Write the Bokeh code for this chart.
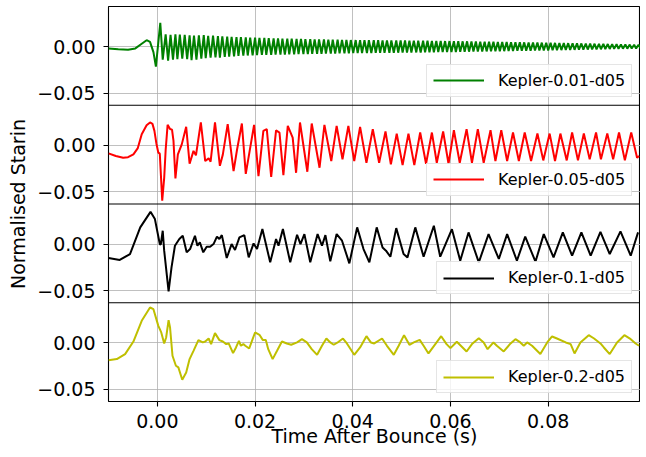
import numpy as np
from bokeh.plotting import figure
from bokeh.models import (Range1d, FixedTicker, CustomJSTickFormatter, NumeralTickFormatter,
                          Legend, LegendItem, Span)
from bokeh.embed import file_html
from bokeh.resources import INLINE

# ---------------- data ----------------
labels = ["Kepler-0.01-d05", "Kepler-0.05-d05", "Kepler-0.1-d05", "Kepler-0.2-d05"]
colors = ["#008000", "#ff0000", "#000000", "#bfbf00"]
x_ticks = [0.00, 0.02, 0.04, 0.06, 0.08]
y_ticks = [0.00, -0.05]

green_t = [
    -0.0100, -0.0080, -0.0060, -0.0045, -0.0032, -0.0022, -0.0015, -0.0008, -0.0003, 0.0006, 0.0011,
    0.0017, 0.0022, 0.0027, 0.0032, 0.0037, 0.0041, 0.0046, 0.0051, 0.0056, 0.0061, 0.0066, 0.0070,
    0.0075, 0.0080, 0.0085, 0.0090, 0.0095, 0.0099, 0.0104, 0.0109, 0.0114, 0.0119, 0.0124, 0.0128,
    0.0133, 0.0138, 0.0143, 0.0147, 0.0152, 0.0157, 0.0162, 0.0166, 0.0171, 0.0176, 0.0181, 0.0185,
    0.0190, 0.0195, 0.0200, 0.0204, 0.0209, 0.0214, 0.0219, 0.0223, 0.0228, 0.0233, 0.0238, 0.0242,
    0.0247, 0.0252, 0.0256, 0.0261, 0.0266, 0.0270, 0.0275, 0.0280, 0.0285, 0.0289, 0.0294, 0.0299,
    0.0303, 0.0308, 0.0313, 0.0317, 0.0322, 0.0327, 0.0331, 0.0336, 0.0341, 0.0345, 0.0350, 0.0355,
    0.0359, 0.0364, 0.0369, 0.0373, 0.0378, 0.0383, 0.0387, 0.0392, 0.0396, 0.0401, 0.0406, 0.0410,
    0.0415, 0.0419, 0.0424, 0.0429, 0.0433, 0.0438, 0.0443, 0.0447, 0.0452, 0.0456, 0.0461, 0.0465,
    0.0470, 0.0475, 0.0479, 0.0484, 0.0489, 0.0493, 0.0498, 0.0502, 0.0507, 0.0511, 0.0516, 0.0520,
    0.0525, 0.0530, 0.0534, 0.0539, 0.0544, 0.0548, 0.0553, 0.0557, 0.0562, 0.0566, 0.0571, 0.0575,
    0.0580, 0.0584, 0.0589, 0.0593, 0.0598, 0.0602, 0.0607, 0.0611, 0.0616, 0.0620, 0.0625, 0.0629,
    0.0634, 0.0638, 0.0643, 0.0647, 0.0652, 0.0656, 0.0661, 0.0665, 0.0670, 0.0674, 0.0679, 0.0683,
    0.0688, 0.0692, 0.0697, 0.0701, 0.0706, 0.0710, 0.0715, 0.0719, 0.0724, 0.0728, 0.0733, 0.0737,
    0.0742, 0.0746, 0.0751, 0.0755, 0.0760, 0.0764, 0.0769, 0.0773, 0.0778, 0.0782, 0.0787, 0.0791,
    0.0796, 0.0800, 0.0805, 0.0809, 0.0814, 0.0818, 0.0823, 0.0827, 0.0832, 0.0836, 0.0841, 0.0845,
    0.0850, 0.0854, 0.0859, 0.0863, 0.0868, 0.0872, 0.0877, 0.0881, 0.0886, 0.0890, 0.0895, 0.0899,
    0.0904, 0.0908, 0.0913, 0.0917, 0.0922, 0.0926, 0.0931, 0.0935, 0.0940, 0.0944, 0.0949, 0.0953,
    0.0958, 0.0962, 0.0967, 0.0971, 0.0976, 0.0980, 0.0985, 0.0989]
green_y = [
    -0.0020, -0.0030, -0.0035, -0.0020, 0.0030, 0.0068, 0.0050, -0.0060, -0.0215, 0.0255, -0.0140,
    0.0130, -0.0150, 0.0125, -0.0140, 0.0130, -0.0135, 0.0128, -0.0130, 0.0125, -0.0135, 0.0120, -0.0145,
    0.0118, -0.0140, 0.0120, -0.0130, 0.0122, -0.0125, 0.0115, -0.0120, 0.0118, -0.0115, 0.0112, -0.0118,
    0.0110, -0.0112, 0.0108, -0.0108, 0.0105, -0.0105, 0.0102, -0.0100, 0.0100, -0.0098, 0.0098, -0.0096,
    0.0096, -0.0094, 0.0095, -0.0092, 0.0094, -0.0090, 0.0092, -0.0090, 0.0090, -0.0088, 0.0088, -0.0087,
    0.0087, -0.0086, 0.0086, -0.0085, 0.0085, -0.0084, 0.0084, -0.0083, 0.0083, -0.0082, 0.0082, -0.0081,
    0.0080, -0.0080, 0.0079, -0.0079, 0.0078, -0.0078, 0.0077, -0.0077, 0.0076, -0.0076, 0.0075, -0.0075,
    0.0074, -0.0074, 0.0073, -0.0073, 0.0072, -0.0072, 0.0071, -0.0072, 0.0070, -0.0071, 0.0070, -0.0070,
    0.0069, -0.0070, 0.0069, -0.0069, 0.0068, -0.0069, 0.0068, -0.0068, 0.0068, -0.0068, 0.0067, -0.0067,
    0.0067, -0.0067, 0.0066, -0.0066, 0.0066, -0.0066, 0.0065, -0.0065, 0.0065, -0.0065, 0.0064, -0.0064,
    0.0064, -0.0063, 0.0063, -0.0063, 0.0062, -0.0062, 0.0062, -0.0061, 0.0061, -0.0061, 0.0060, -0.0060,
    0.0060, -0.0060, 0.0059, -0.0059, 0.0059, -0.0058, 0.0058, -0.0058, 0.0057, -0.0057, 0.0056, -0.0056,
    0.0056, -0.0055, 0.0055, -0.0054, 0.0054, -0.0054, 0.0053, -0.0053, 0.0052, -0.0052, 0.0052, -0.0051,
    0.0051, -0.0050, 0.0050, -0.0050, 0.0049, -0.0049, 0.0048, -0.0048, 0.0047, -0.0047, 0.0047, -0.0046,
    0.0046, -0.0045, 0.0045, -0.0045, 0.0044, -0.0044, 0.0043, -0.0043, 0.0043, -0.0042, 0.0042, -0.0042,
    0.0041, -0.0041, 0.0040, -0.0040, 0.0039, -0.0039, 0.0038, -0.0038, 0.0037, -0.0037, 0.0036, -0.0036,
    0.0035, -0.0035, 0.0034, -0.0034, 0.0033, -0.0033, 0.0032, -0.0032, 0.0031, -0.0031, 0.0030, -0.0030,
    0.0029, -0.0029, 0.0028, -0.0028, 0.0027, -0.0026, 0.0026, -0.0025, 0.0025, -0.0024, 0.0023, -0.0023,
    0.0022, -0.0022, 0.0021, -0.0021, 0.0020, -0.0020, 0.0019, -0.0018]

red_t = [
    -0.0100, -0.0085, -0.0070, -0.0060, -0.0049, -0.0040, -0.0032, -0.0022, -0.0015, -0.0010, -0.0006,
    -0.0002, 0.0002, 0.0005, 0.0010, 0.0014, 0.0017, 0.0021, 0.0026, 0.0030, 0.0033, 0.0037, 0.0042,
    0.0050, 0.0059, 0.0066, 0.0074, 0.0079, 0.0089, 0.0098, 0.0105, 0.0109, 0.0118, 0.0128, 0.0134,
    0.0144, 0.0156, 0.0163, 0.0173, 0.0181, 0.0198, 0.0207, 0.0217, 0.0224, 0.0233, 0.0243, 0.0250,
    0.0258, 0.0267, 0.0277, 0.0284, 0.0292, 0.0307, 0.0316, 0.0332, 0.0342, 0.0356, 0.0367, 0.0379,
    0.0391, 0.0403, 0.0415, 0.0428, 0.0441, 0.0454, 0.0467, 0.0478, 0.0490, 0.0502, 0.0514, 0.0526,
    0.0538, 0.0550, 0.0562, 0.0572, 0.0585, 0.0596, 0.0607, 0.0619, 0.0633, 0.0644, 0.0656, 0.0668,
    0.0682, 0.0692, 0.0704, 0.0716, 0.0728, 0.0740, 0.0752, 0.0765, 0.0778, 0.0790, 0.0803, 0.0814,
    0.0825, 0.0838, 0.0849, 0.0861, 0.0873, 0.0885, 0.0898, 0.0908, 0.0921, 0.0933, 0.0945, 0.0957,
    0.0970, 0.0982, 0.0986]
red_y = [
    -0.0086, -0.0115, -0.0133, -0.0128, -0.0097, -0.0030, 0.0119, 0.0215, 0.0245, 0.0230, 0.0155,
    0.0020, -0.0079, -0.0090, -0.0594, -0.0350, -0.0050, 0.0220, 0.0175, 0.0168, 0.0050, -0.0356, -0.0097,
    0.0010, 0.0198, -0.0198, -0.0060, -0.0108, 0.0245, -0.0169, -0.0140, -0.0175, 0.0245, -0.0220, -0.0100,
    0.0227, -0.0277, -0.0050, 0.0234, -0.0306, 0.0220, -0.0330, 0.0155, 0.0173, -0.0340, 0.0160, 0.0137,
    -0.0320, 0.0209, 0.0083, -0.0295, 0.0245, -0.0284, 0.0234, -0.0241, 0.0220, -0.0169, 0.0209, -0.0150,
    0.0209, -0.0169, 0.0198, -0.0187, 0.0173, -0.0187, 0.0148, -0.0205, 0.0126, -0.0212, 0.0126, -0.0212,
    0.0137, -0.0198, 0.0137, -0.0187, 0.0148, -0.0198, 0.0162, -0.0187, 0.0173, -0.0187, 0.0173, -0.0187,
    0.0162, -0.0169, 0.0162, -0.0169, 0.0137, -0.0169, 0.0137, -0.0169, 0.0126, -0.0162, 0.0126, -0.0169,
    0.0126, -0.0162, 0.0137, -0.0162, 0.0126, -0.0151, 0.0137, -0.0151, 0.0126, -0.0151, 0.0137, -0.0162,
    0.0137, -0.0133, -0.0115]

black_t = [
    -0.0100, -0.0077, -0.0056, -0.0035, -0.0014, -0.0005, 0.0005, 0.0007, 0.0011, 0.0014, 0.0023,
    0.0029, 0.0036, 0.0045, 0.0052, 0.0060, 0.0067, 0.0077, 0.0082, 0.0087, 0.0094, 0.0101, 0.0108,
    0.0115, 0.0122, 0.0127, 0.0132, 0.0142, 0.0152, 0.0159, 0.0168, 0.0178, 0.0187, 0.0197, 0.0204,
    0.0215, 0.0231, 0.0243, 0.0248, 0.0257, 0.0272, 0.0286, 0.0293, 0.0301, 0.0313, 0.0328, 0.0337,
    0.0344, 0.0354, 0.0367, 0.0378, 0.0393, 0.0409, 0.0422, 0.0434, 0.0449, 0.0461, 0.0468, 0.0477,
    0.0489, 0.0504, 0.0512, 0.0528, 0.0545, 0.0566, 0.0579, 0.0603, 0.0620, 0.0637, 0.0658, 0.0678,
    0.0699, 0.0716, 0.0736, 0.0753, 0.0774, 0.0791, 0.0811, 0.0830, 0.0849, 0.0868, 0.0887, 0.0907,
    0.0926, 0.0948, 0.0969, 0.0984]
black_y = [
    -0.0150, -0.0171, -0.0107, 0.0179, 0.0346, 0.0268, 0.0000, -0.0007, 0.0143, -0.0071, -0.0507,
    -0.0250, -0.0018, 0.0054, 0.0089, -0.0089, -0.0054, 0.0089, -0.0018, 0.0018, -0.0089, -0.0029, -0.0029,
    0.0000, 0.0079, 0.0054, 0.0096, -0.0150, 0.0000, -0.0064, 0.0071, 0.0096, -0.0143, 0.0007, -0.0054,
    0.0161, -0.0196, 0.0054, -0.0018, 0.0161, -0.0196, 0.0100, 0.0000, 0.0107, -0.0196, 0.0107, -0.0018,
    0.0096, -0.0186, 0.0107, 0.0036, -0.0207, 0.0179, -0.0054, -0.0196, 0.0179, -0.0036, -0.0071, -0.0136,
    0.0171, -0.0107, -0.0143, 0.0179, -0.0136, 0.0196, -0.0136, 0.0160, -0.0179, 0.0125, -0.0196, 0.0107,
    -0.0160, 0.0107, -0.0179, 0.0079, -0.0189, 0.0107, -0.0143, 0.0125, -0.0125, 0.0125, -0.0125, 0.0132,
    -0.0107, 0.0136, -0.0125, 0.0125]

yellow_t = [
    -0.0100, -0.0083, -0.0066, -0.0049, -0.0032, -0.0015, -0.0008, 0.0002, 0.0008, 0.0014, 0.0018,
    0.0023, 0.0026, 0.0031, 0.0038, 0.0043, 0.0051, 0.0059, 0.0066, 0.0074, 0.0084, 0.0093, 0.0098,
    0.0105, 0.0110, 0.0118, 0.0127, 0.0134, 0.0141, 0.0146, 0.0155, 0.0161, 0.0167, 0.0171, 0.0176,
    0.0180, 0.0188, 0.0195, 0.0200, 0.0209, 0.0216, 0.0222, 0.0227, 0.0236, 0.0245, 0.0255, 0.0265,
    0.0274, 0.0286, 0.0296, 0.0306, 0.0316, 0.0327, 0.0337, 0.0346, 0.0354, 0.0361, 0.0371, 0.0380,
    0.0388, 0.0403, 0.0415, 0.0428, 0.0437, 0.0444, 0.0460, 0.0470, 0.0484, 0.0494, 0.0505, 0.0516,
    0.0525, 0.0537, 0.0545, 0.0555, 0.0569, 0.0581, 0.0592, 0.0600, 0.0613, 0.0633, 0.0644, 0.0658,
    0.0668, 0.0676, 0.0688, 0.0695, 0.0709, 0.0723, 0.0733, 0.0743, 0.0750, 0.0757, 0.0767, 0.0784,
    0.0798, 0.0808, 0.0818, 0.0836, 0.0846, 0.0854, 0.0866, 0.0883, 0.0894, 0.0907, 0.0914, 0.0926,
    0.0941, 0.0956, 0.0969, 0.0979, 0.0986]
yellow_y = [
    -0.0186, -0.0175, -0.0121, 0.0014, 0.0236, 0.0379, 0.0361, 0.0182, 0.0111, -0.0007, 0.0057,
    0.0243, 0.0164, -0.0139, -0.0246, -0.0264, -0.0396, -0.0318, -0.0175, -0.0086, 0.0029, 0.0004, 0.0014,
    0.0046, -0.0014, 0.0104, 0.0029, 0.0014, -0.0014, -0.0007, -0.0111, -0.0050, 0.0021, -0.0032, -0.0014,
    -0.0032, -0.0061, 0.0039, 0.0111, 0.0086, 0.0029, 0.0029, -0.0068, -0.0175, -0.0086, 0.0014, -0.0007,
    -0.0021, 0.0004, 0.0039, 0.0004, -0.0068, -0.0129, -0.0032, 0.0046, 0.0004, -0.0021, 0.0011, 0.0046,
    -0.0007, -0.0129, -0.0050, 0.0071, 0.0004, -0.0007, 0.0046, -0.0032, -0.0129, -0.0032, 0.0082, -0.0021,
    0.0004, 0.0032, -0.0032, -0.0114, -0.0014, 0.0071, -0.0014, -0.0057, 0.0011, -0.0093, -0.0014, 0.0050,
    0.0004, -0.0068, 0.0004, -0.0032, -0.0093, -0.0007, 0.0039, 0.0004, -0.0032, 0.0004, -0.0032, -0.0121,
    0.0004, 0.0068, 0.0046, 0.0004, -0.0014, -0.0114, 0.0004, 0.0082, 0.0046, -0.0007, -0.0050, -0.0121,
    0.0004, 0.0082, 0.0039, -0.0007, -0.0032]

series_t = [green_t, red_t, black_t, yellow_t]
series_y = [green_y, red_y, black_y, yellow_y]

# ---------------- layout of the stacked panels ----------------
PANEL_TOP = 0.043
PANEL_BOTTOM = -0.063
PANEL_H = PANEL_TOP - PANEL_BOTTOM
N = len(labels)
offsets = [-k * PANEL_H for k in range(N)]

FONT = "DejaVu Sans"
FRAME_W, FRAME_H = 532, 395
px_per_panel = FRAME_H / N

p = figure(output_backend="svg", toolbar_location=None,
           frame_width=FRAME_W, frame_height=FRAME_H,
           min_border_left=108, min_border_right=0, min_border_top=6, min_border_bottom=0,
           x_range=Range1d(-0.0100, 0.0989),
           y_range=Range1d(offsets[-1] + PANEL_BOTTOM, PANEL_TOP))
p.background_fill_color = "white"
p.border_fill_color = "white"
p.outline_line_color = "black"
p.outline_line_width = 1.1

# x axis
p.xaxis.ticker = FixedTicker(ticks=x_ticks)
p.xaxis.formatter = NumeralTickFormatter(format="0.00")
p.xaxis.axis_label = "Time After Bounce (s)"

# y axis: ticks of every panel
yt = []
for off in offsets:
    for v in y_ticks:
        yt.append(off + v)
p.yaxis.ticker = FixedTicker(ticks=yt)
p.yaxis.formatter = CustomJSTickFormatter(args=dict(h=PANEL_H), code="""
    const k = Math.floor((-tick + 1e-6) / h);
    const rel = Math.round((tick + k * h) * 100) / 100;
    const s = Math.abs(rel).toFixed(2);
    return rel < 0 ? "\u2212" + s : s;
""")
p.yaxis.axis_label = "Normalised Starin"

for ax in (p.xaxis[0], p.yaxis[0]):
    ax.axis_line_color = None
    ax.major_tick_line_color = "black"
    ax.major_tick_line_width = 1.1
    ax.major_tick_out = 5
    ax.major_tick_in = 0
    ax.minor_tick_line_color = None
    ax.major_label_text_font = FONT
    ax.major_label_text_font_size = "19px"
    ax.major_label_text_color = "black"
    ax.axis_label_text_font = FONT
    ax.axis_label_text_font_size = "19px"
    ax.axis_label_text_font_style = "normal"
    ax.axis_label_text_color = "black"
p.xaxis.major_label_standoff = 7
p.xaxis.axis_label_standoff = -6
p.yaxis.major_label_standoff = 8
p.yaxis.axis_label_standoff = 5

p.grid.grid_line_color = "#b0b0b0"
p.grid.grid_line_width = 0.8

# panel separators
for k in range(1, N):
    p.add_layout(Span(location=offsets[k] + PANEL_TOP, dimension="width",
                      line_color="black", line_width=1.1))

legend_w = {"Kepler-0.01-d05": 206, "Kepler-0.05-d05": 206,
            "Kepler-0.1-d05": 196, "Kepler-0.2-d05": 196}

for k in range(N):
    t = np.array(series_t[k])
    y = np.array(series_y[k]) + offsets[k]
    r = p.line(t, y, line_color=colors[k], line_width=2)
    bottom_px = (N - 1 - k) * px_per_panel + 8
    leg = Legend(items=[LegendItem(label=labels[k], renderers=[r])],
                 location=(FRAME_W - 8 - legend_w[labels[k]], bottom_px),
                 margin=0, padding=6, spacing=0,
                 glyph_width=51, glyph_height=18, label_height=18, label_standoff=14,
                 label_text_font=FONT, label_text_font_size="16px", label_text_color="black",
                 border_line_color="#cccccc", border_line_width=1,
                 background_fill_color="white", background_fill_alpha=0.8)
    p.add_layout(leg)

open("out.html", "w").write(file_html(p, INLINE))
